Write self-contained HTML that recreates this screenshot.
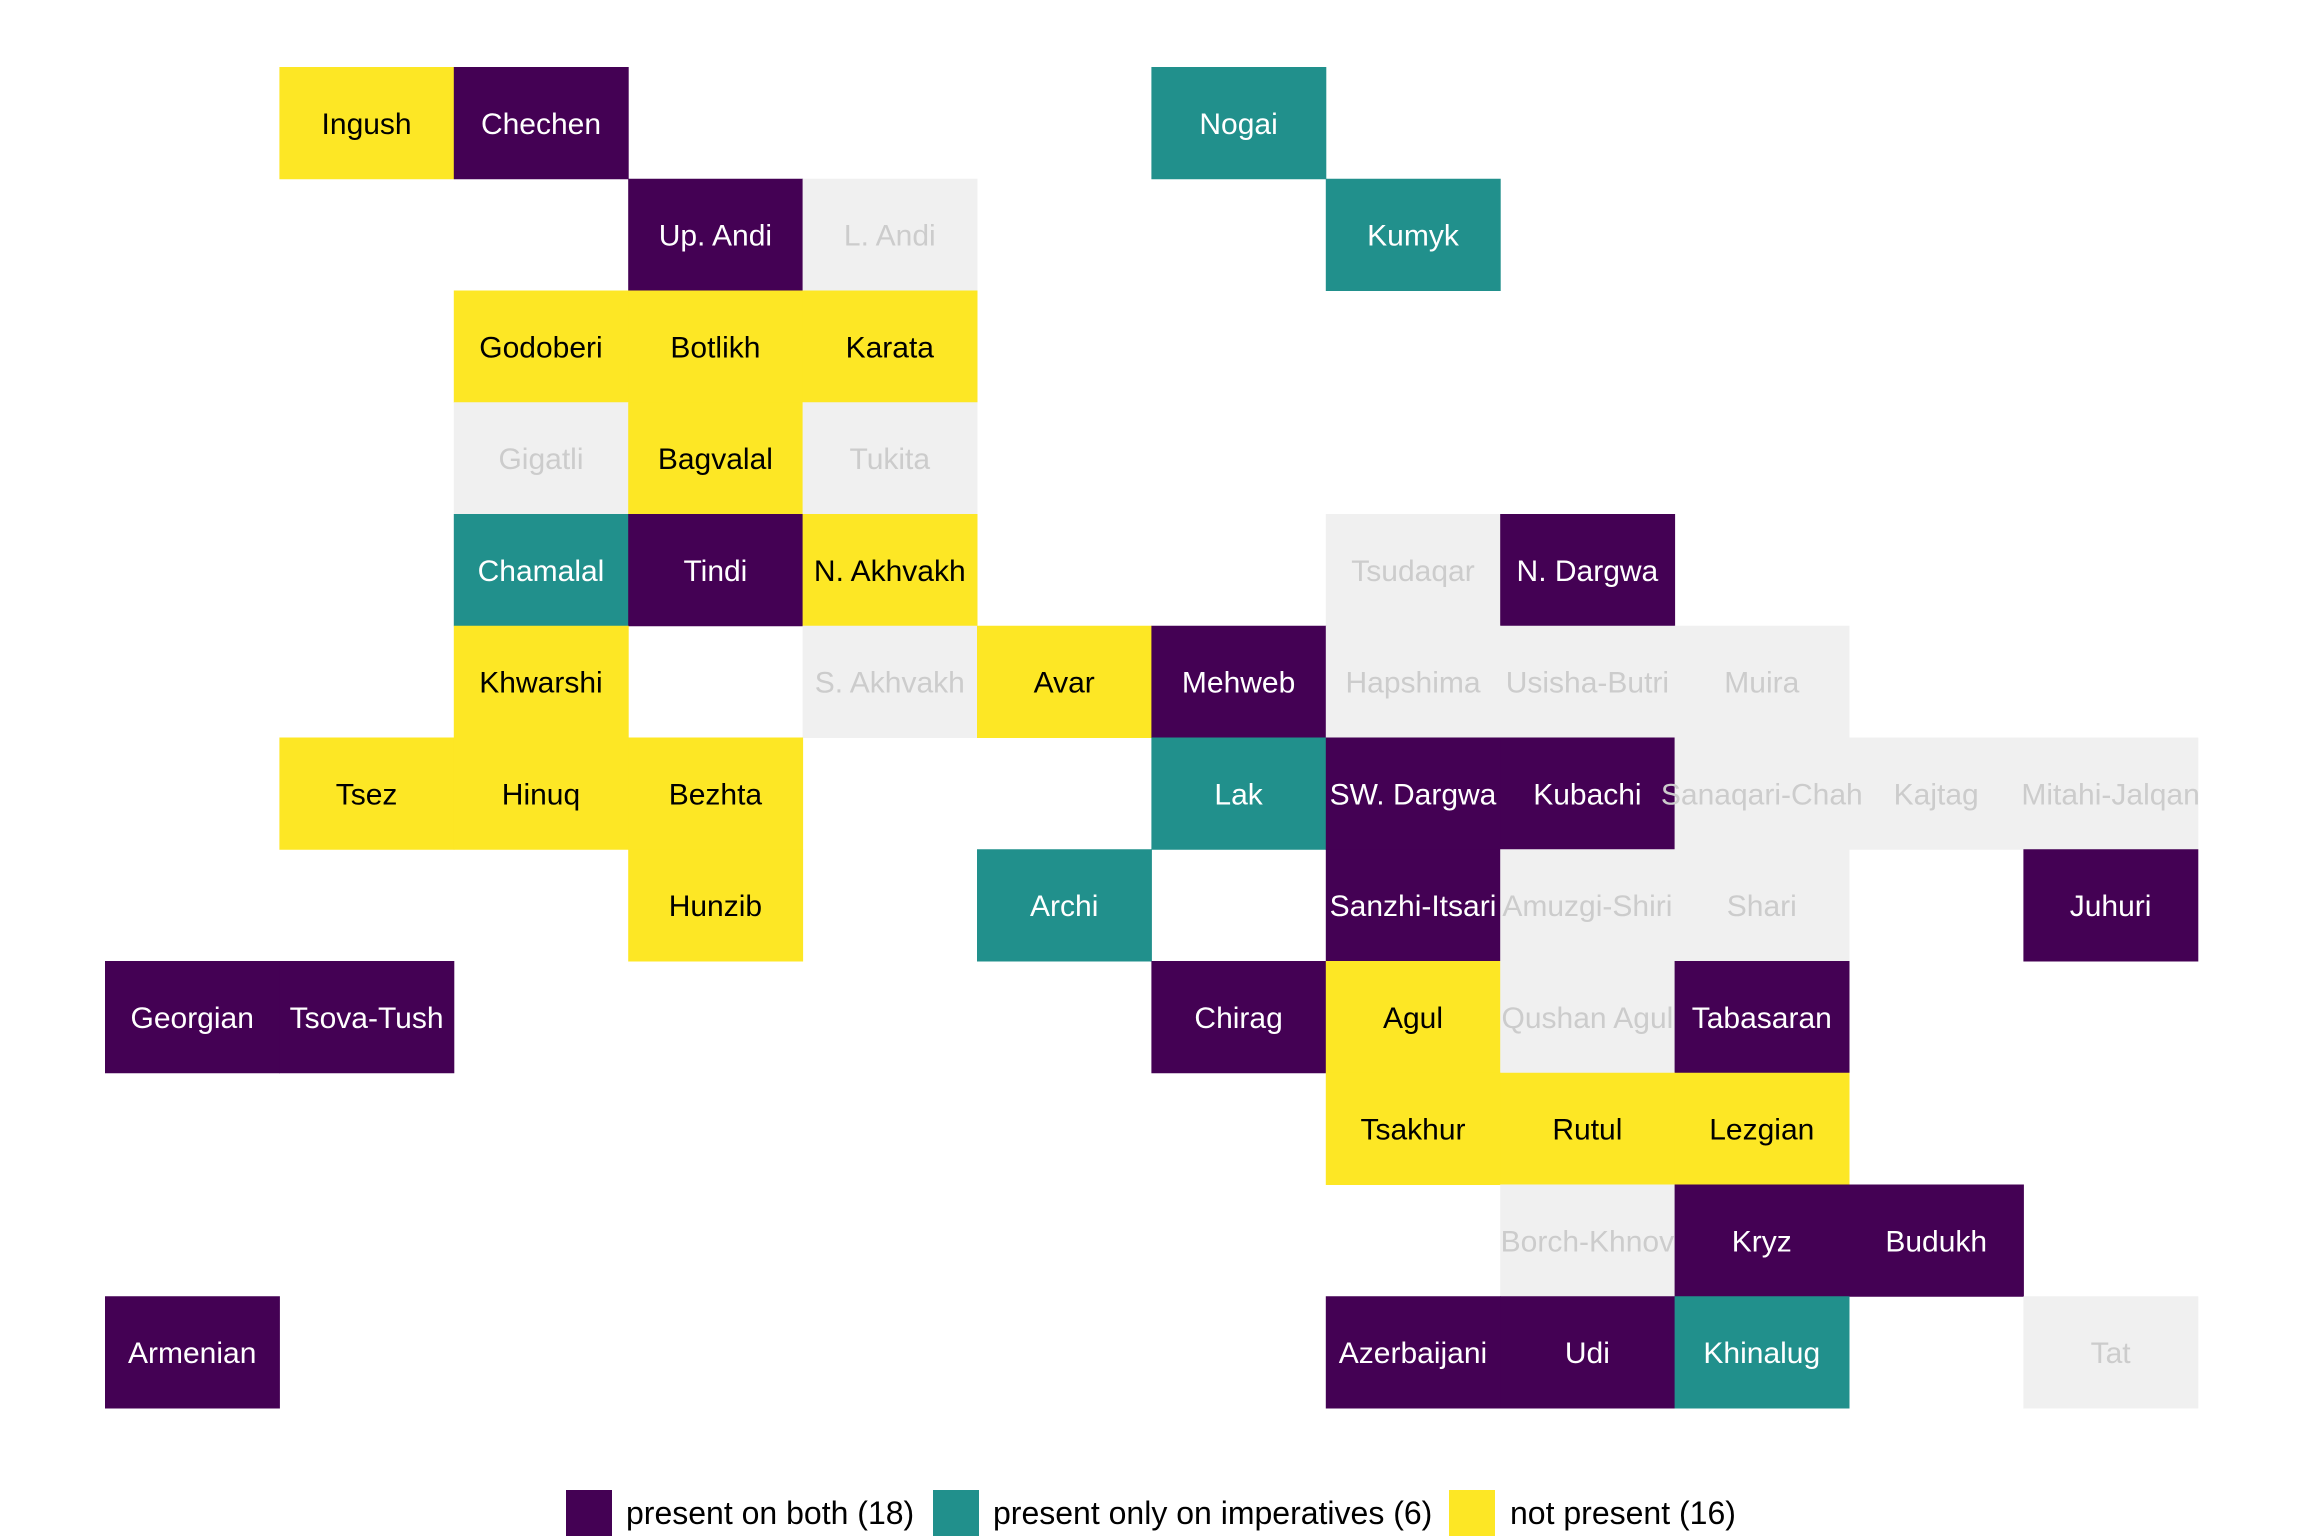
<!DOCTYPE html>
<html><head><meta charset="utf-8"><style>html,body{margin:0;padding:0;background:#fff}svg{display:block}</style></head>
<body>
<svg width="2304" height="1536" viewBox="0 0 2304 1536" xmlns="http://www.w3.org/2000/svg" font-family="Liberation Sans, sans-serif">
<g id="cells"></g>
<g font-size="30" text-anchor="middle" id="labels"></g>
<g font-size="32">
<rect x="566" y="1490" width="46" height="46" fill="#440154"/>
<text x="626" y="1524" fill="#000">present on both (18)</text>
<rect x="933" y="1490" width="46" height="46" fill="#21908C"/>
<text x="993" y="1524" fill="#000">present only on imperatives (6)</text>
<rect x="1449" y="1490" width="46" height="46" fill="#FDE725"/>
<text x="1510" y="1524" fill="#000">not present (16)</text>
</g>
<script>
var d=[
[0,1,'Y','Ingush'],[0,2,'P','Chechen'],[0,6,'T','Nogai'],
[1,3,'P','Up. Andi'],[1,4,'G','L. Andi'],[1,7,'T','Kumyk'],
[2,2,'Y','Godoberi'],[2,3,'Y','Botlikh'],[2,4,'Y','Karata'],
[3,2,'G','Gigatli'],[3,3,'Y','Bagvalal'],[3,4,'G','Tukita'],
[4,2,'T','Chamalal'],[4,3,'P','Tindi'],[4,4,'Y','N. Akhvakh'],[4,7,'G','Tsudaqar'],[4,8,'P','N. Dargwa'],
[5,2,'Y','Khwarshi'],[5,4,'G','S. Akhvakh'],[5,5,'Y','Avar'],[5,6,'P','Mehweb'],[5,7,'G','Hapshima'],[5,8,'G','Usisha-Butri'],[5,9,'G','Muira'],
[6,1,'Y','Tsez'],[6,2,'Y','Hinuq'],[6,3,'Y','Bezhta'],[6,6,'T','Lak'],[6,7,'P','SW. Dargwa'],[6,8,'P','Kubachi'],[6,9,'G','Sanaqari-Chah'],[6,10,'G','Kajtag'],[6,11,'G','Mitahi-Jalqan'],
[7,3,'Y','Hunzib'],[7,5,'T','Archi'],[7,7,'P','Sanzhi-Itsari'],[7,8,'G','Amuzgi-Shiri'],[7,9,'G','Shari'],[7,11,'P','Juhuri'],
[8,0,'P','Georgian'],[8,1,'P','Tsova-Tush'],[8,6,'P','Chirag'],[8,7,'Y','Agul'],[8,8,'G','Qushan Agul'],[8,9,'P','Tabasaran'],
[9,7,'Y','Tsakhur'],[9,8,'Y','Rutul'],[9,9,'Y','Lezgian'],
[10,8,'G','Borch-Khnov'],[10,9,'P','Kryz'],[10,10,'P','Budukh'],
[11,0,'P','Armenian'],[11,7,'P','Azerbaijani'],[11,8,'P','Udi'],[11,9,'T','Khinalug'],[11,11,'G','Tat']];
var fill={P:'#440154',T:'#21908C',Y:'#FDE725',G:'#F0F0F0'},tc={P:'#fff',T:'#fff',Y:'#000',G:'#CCCCCC'};
var x0=105,y0=67,cw=174.4,rh=111.75,ns='http://www.w3.org/2000/svg';
var C=document.getElementById('cells'),L=document.getElementById('labels');
d.forEach(function(e){var r=document.createElementNS(ns,'rect');r.setAttribute('x',x0+e[1]*cw);r.setAttribute('y',y0+e[0]*rh);r.setAttribute('width',cw+0.5);r.setAttribute('height',rh+0.5);r.setAttribute('fill',fill[e[2]]);C.appendChild(r);});
d.forEach(function(e){var t=document.createElementNS(ns,'text');t.setAttribute('x',x0+(e[1]+0.5)*cw);t.setAttribute('y',y0+(e[0]+0.5)*rh+11);t.setAttribute('fill',tc[e[2]]);t.textContent=e[3];L.appendChild(t);});
</script>
</svg>
</body></html>
